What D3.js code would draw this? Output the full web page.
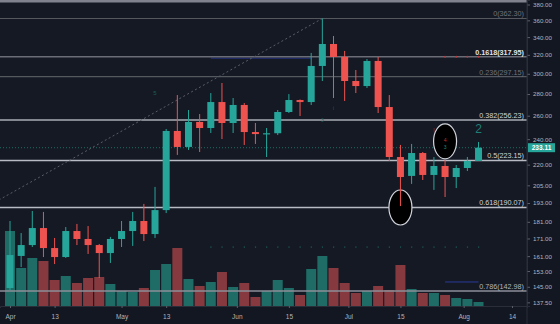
<!DOCTYPE html>
<html><head><meta charset="utf-8">
<script src="https://cdn.jsdelivr.net/npm/d3@7/dist/d3.min.js"></script>
<style>
html,body{margin:0;padding:0;background:#131722;overflow:hidden;}
svg{display:block;}
text{font-family:"Liberation Sans",Arial,sans-serif;}
</style></head><body>
<svg id="c" width="560" height="324"></svg>
<script>
// ---------- data ----------
const dates = ["2020-04-01","2020-04-04","2020-04-07","2020-04-10","2020-04-13","2020-04-16","2020-04-19","2020-04-22","2020-04-25","2020-04-28",
 "2020-05-01","2020-05-04","2020-05-07","2020-05-10","2020-05-13","2020-05-16","2020-05-19","2020-05-22","2020-05-25","2020-05-28","2020-05-31",
 "2020-06-03","2020-06-06","2020-06-09","2020-06-12","2020-06-15","2020-06-18","2020-06-21","2020-06-24","2020-06-27","2020-06-30",
 "2020-07-03","2020-07-06","2020-07-09","2020-07-12","2020-07-15","2020-07-18","2020-07-21","2020-07-24","2020-07-27","2020-07-30",
 "2020-08-02","2020-08-05"];
const open  = [144.4,161.1,167.2,177.2,165.5,160.5,175.4,170.7,167.2,162.7,170.7,175.4,181.5,173.6,188.4,246.8,233.7,254.5,249.3,272.4,253.6,269.7,245.9,244.4,244.9,263.3,274.3,272.4,308.1,332.1,317.7,292.7,287.7,313.4,267.8,225.8,211.7,228.9,212.4,219.0,210.9,217.5,222.8];
const high  = [181.5,174.2,187.8,187.2,171.3,177.8,179.7,178.4,167.8,171.9,181.5,187.2,192.4,203.9,248.5,279.0,265.1,261.5,280.9,290.7,276.2,271.5,253.6,249.3,265.1,279.9,274.8,322.1,362.3,341.3,324.3,303.9,315.5,317.7,279.0,235.3,236.1,229.7,225.8,223.5,219.7,225.8,237.7];
const low   = [143.4,155.1,166.1,160.5,156.7,160.0,167.2,162.2,149.4,157.3,166.1,166.7,169.5,171.3,186.5,227.4,231.3,229.7,245.1,240.1,245.1,235.3,236.1,225.8,243.4,262.4,259.7,269.7,292.7,276.2,273.4,280.9,285.8,262.4,222.8,191.0,206.0,208.8,201.8,197.0,203.1,215.3,222.8];
const close = [161.6,167.2,177.2,165.5,160.5,175.4,170.7,167.2,162.7,170.7,175.4,181.5,173.6,188.4,246.8,233.7,254.5,249.3,272.4,253.6,269.7,245.9,244.2,244.9,263.3,274.3,272.4,308.1,332.1,317.7,292.7,287.7,313.4,267.8,225.8,210.9,228.9,212.4,219.0,210.9,217.5,222.8,233.11];
const volume = [75,38,48,45,26,30,23,28,29,22,15,14,18,36,42,58,27,20,24,34,19,23,9,15,26,18,11,37,50,38,23,13,15,20,16,41,17,13,13,11,8,7,4];

const fibRatios = ["0","0.1618","0.236","0.382","0.5","0.618","0.786"];
const fibPrices = [362.30,317.95,297.15,256.23,223.15,190.07,142.98];

const priceTicks = [380,360,340,320,300,280,260,240,220,205,193,181,171,161,153,145,137.5];
const timeTickDates  = ["2020-04-01","2020-04-13","2020-05-01","2020-05-13","2020-06-01","2020-06-15","2020-07-01","2020-07-15","2020-08-01","2020-08-14"];
const timeTickLabels = ["Apr","13","May","13","Jun","15","Jul","15","Aug","14"];
const lastPrice = 233.11;

const trendDates  = ["2020-03-29","2020-06-24"];
const trendPrices = [195, 362.3];

const ellipseDates  = ["2020-07-15","2020-07-27"];
const ellipsePrices = [190.07, 238.2];

// ---------- layout ----------
const W = 560, H = 324, plotR = 527, plotB = 306;
const parse = d3.utcParse("%Y-%m-%d");
const day = 864e5;
const d0 = parse("2020-04-01");
const pxPerDay = 3.7185;
const x = d3.scaleUtc()
  .domain([new Date(+d0 - (10/pxPerDay)*day), new Date(+d0 + ((plotR-10)/pxPerDay)*day)])
  .range([0, plotR]);
const y = d3.scaleLog().domain([135.8, 385.9]).range([plotB, 0]);
const yv = d3.scaleLinear().domain([0, 100]).range([plotB, plotB-100]);

const svg = d3.select("#c");
svg.append("rect").attr("width", W).attr("height", H).attr("fill", "#131722");
svg.append("rect").attr("width", plotR).attr("height", plotB).attr("fill", "#151924");

const data = dates.map((d,i)=>({date:parse(d), o:open[i], h:high[i], l:low[i], c:close[i], v:volume[i]}));
const TEAL = "#26a69a", RED = "#ef5350";

const g = svg.append("g");
g.append("clipPath").attr("id","clip").append("rect").attr("width",plotR).attr("height",plotB);
const p = g.append("g").attr("clip-path","url(#clip)");

// volume bars
p.selectAll("rect.vol").data(data).join("rect").attr("class","vol")
  .attr("x", d=>x(d.date)-5).attr("width", 10)
  .attr("y", d=>yv(d.v)).attr("height", d=>plotB - yv(d.v))
  .attr("fill", d=> d.c>=d.o ? "#1f6b65" : "#863a3f");

// top border line
p.append("rect").attr("x",0).attr("y",0).attr("width",plotR).attr("height",2.5).attr("fill","#80838d");

// fib lines
const fibStyle = [
  {c:"#55585f", w:1.2, t:"#6f727c", b:false},
  {c:"#6a6d75", w:1.5, t:"#e0e3eb", b:true},
  {c:"#55585f", w:1.2, t:"#6f727c", b:false},
  {c:"#a9acb4", w:1.5, t:"#d1d4dc", b:false},
  {c:"#b8bbc3", w:1.5, t:"#d1d4dc", b:false},
  {c:"#b8bbc3", w:1.5, t:"#d1d4dc", b:false},
  {c:"#8c8f98", w:1.5, t:"#b2b5be", b:false}
];
// faint blue segments
p.append("line").attr("x1", x(parse("2020-05-25"))).attr("x2", x(parse("2020-06-21")))
  .attr("y1", y(fibPrices[1])+1.5).attr("y2", y(fibPrices[1])+1.5).attr("stroke","#22307a").attr("stroke-width",1);
p.append("line").attr("x1", x(parse("2020-07-27"))).attr("x2", x(parse("2020-08-05")))
  .attr("y1", y(147.4)).attr("y2", y(147.4)).attr("stroke","#2a3a9a").attr("stroke-width",1);

fibPrices.forEach((v,i)=>{
  p.append("line").attr("x1",0).attr("x2",plotR).attr("y1",y(v)).attr("y2",y(v))
   .attr("stroke",fibStyle[i].c).attr("stroke-width",fibStyle[i].w);
  p.append("text").attr("x",524).attr("y",y(v)-2).attr("text-anchor","end")
   .attr("font-size",7.2).attr("fill",fibStyle[i].t).attr("font-weight",fibStyle[i].b?"bold":"normal")
   .text(`${fibRatios[i]}(${v.toFixed(2)})`);
});

// red dots on 0.1618
p.selectAll("circle.rd").data(data.slice(39)).join("circle").attr("class","rd")
  .attr("cx",d=>x(d.date)).attr("cy",y(fibPrices[1])).attr("r",0.9).attr("fill","#c2373b");

// teal marker row
p.selectAll("rect.tm").data(data.slice(18)).join("rect").attr("class","tm")
  .attr("x",d=>x(d.date)-0.5).attr("y",y(166.1)-0.5).attr("width",1.2).attr("height",1.2).attr("fill","#1d5f59");

// last price dotted line
p.append("line").attr("x1",0).attr("x2",plotR).attr("y1",y(lastPrice)).attr("y2",y(lastPrice))
  .attr("stroke","#1c6b63").attr("stroke-width",1).attr("stroke-dasharray","1,2");

// trend line
p.append("line")
  .attr("x1",x(parse(trendDates[0]))).attr("y1",y(trendPrices[0]))
  .attr("x2",x(parse(trendDates[1]))).attr("y2",y(trendPrices[1]))
  .attr("stroke","#5a5d66").attr("stroke-width",1).attr("stroke-dasharray","2,2.5");

// ellipses
ellipseDates.forEach((d,i)=>{
  p.append("ellipse").attr("cx",x(parse(d))).attr("cy",y(ellipsePrices[i]))
   .attr("rx",11.5).attr("ry",17.5).attr("fill","#000").attr("stroke","#d1d4dc").attr("stroke-width",1.2);
});

// candles
const cg = p.selectAll("g.cdl").data(data).join("g").attr("class","cdl");
cg.append("line").attr("x1",d=>x(d.date)).attr("x2",d=>x(d.date))
  .attr("y1",d=>y(d.h)).attr("y2",d=>y(d.l))
  .attr("stroke",d=>d.c>=d.o?TEAL:RED).attr("stroke-width",1);
cg.append("rect").attr("x",d=>x(d.date)-3.5).attr("width",7)
  .attr("y",d=>Math.min(y(d.o),y(d.c)))
  .attr("height",d=>Math.max(1.2,Math.abs(y(d.o)-y(d.c))))
  .attr("fill",d=>d.c>=d.o?TEAL:RED);

// small annotation texts
const ann = [
  {d:"2020-07-27", v:238.9, t:"4", c:"#b23a3c", s:5},
  {d:"2020-07-27", v:233.2, t:"3", c:"#1f8a80", s:5},
  {d:"2020-07-24", v:247.0, t:"l", c:"#8a3033", s:6},
  {d:"2020-08-05", v:247.6, t:"2", c:"#1f7f76", s:12},
  {d:"2020-05-10", v:281.0, t:"5", c:"#1a5e58", s:6},
  {d:"2020-06-27", v:266.0, t:"i", c:"#1a5e58", s:5},
  {d:"2020-06-24", v:256.0, t:"3", c:"#1a5e58", s:5}
];
ann.forEach(a=>{
  p.append("text").attr("x",x(parse(a.d))).attr("y",y(a.v)).attr("text-anchor","middle")
   .attr("dominant-baseline","middle").attr("font-size",a.s).attr("fill",a.c).text(a.t);
});

// axes
const ay = svg.append("g").attr("transform",`translate(${plotR},0)`)
  .call(d3.axisRight(y).tickValues(priceTicks).tickFormat(d3.format(".2f")).tickSize(3).tickPadding(3));
ay.select(".domain").attr("stroke","#2a2e39");
ay.selectAll(".tick line").attr("stroke","#5d606b");
ay.selectAll(".tick text").attr("fill","#b2b5be").attr("font-size",6.2).attr("font-family","Liberation Sans, Arial, sans-serif");

svg.append("line").attr("x1",plotR).attr("x2",plotR).attr("y1",0).attr("y2",H).attr("stroke","#2a2e39");

const ax = svg.append("g").attr("transform",`translate(0,${plotB})`)
  .call(d3.axisBottom(x).tickValues(timeTickDates.map(parse)).tickFormat((d,i)=>timeTickLabels[i]).tickSize(2).tickPadding(6));
ax.select(".domain").attr("stroke","#2a2e39");
ax.selectAll(".tick line").attr("stroke","#5d606b");
ax.selectAll(".tick text").attr("fill","#b2b5be").attr("font-size",6.5).attr("font-family","Liberation Sans, Arial, sans-serif");

// last price tag
const ly = y(lastPrice);
svg.append("rect").attr("x",plotR+1).attr("y",ly-4.5).attr("width",27).attr("height",9).attr("fill",TEAL);
svg.append("text").attr("x",plotR+14.5).attr("y",ly).attr("text-anchor","middle").attr("dominant-baseline","central")
  .attr("font-size",6.5).attr("font-weight","bold").attr("fill","#ffffff").text(lastPrice.toFixed(2));
</script>
</body></html>
